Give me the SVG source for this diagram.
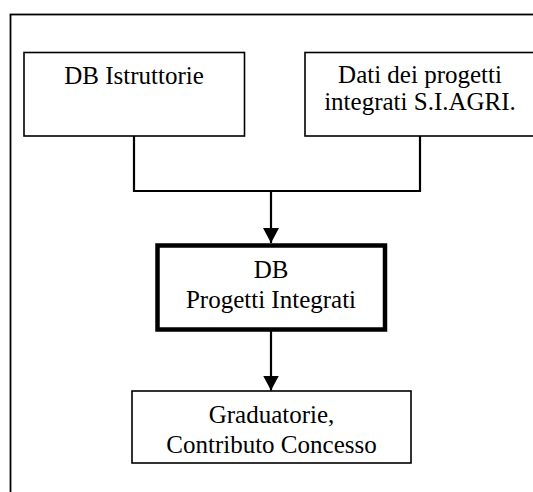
<svg xmlns="http://www.w3.org/2000/svg" width="533" height="492" viewBox="0 0 533 492">
  <style>
    .box { fill: #ffffff; stroke: #000000; stroke-width: 1.6; }
    .box-strong { fill: #ffffff; stroke: #000000; stroke-width: 4.5; }
    .frame { fill: none; stroke: #000000; stroke-width: 1.8; }
    .wire { fill: none; stroke: #000000; stroke-width: 2.2; }
    .label { font-family: "Liberation Serif", "Times New Roman", serif; font-size: 25px; fill: #000000; text-anchor: middle; }
  </style>
  <defs>
    <marker id="arrow" markerUnits="userSpaceOnUse" markerWidth="16" markerHeight="16" refX="15" refY="8" orient="auto">
      <path d="M0,0 L15,8 L0,16 Z" fill="#000000"/>
    </marker>
  </defs>

  <rect width="533" height="492" fill="#ffffff"/>

  <!-- outer frame, running off the right and bottom edges -->
  <rect class="frame" x="10.5" y="14.5" width="540" height="500"/>

  <g id="connectors">
    <polyline class="wire" points="134,136 134,191 420,191 420,136"/>
    <line class="wire" x1="271" y1="191" x2="271" y2="243" marker-end="url(#arrow)"/>
    <line class="wire" x1="271" y1="331" x2="271" y2="390.5" marker-end="url(#arrow)"/>
  </g>

  <g id="db-istruttorie">
    <rect class="box" x="24" y="52.5" width="220.5" height="83.5"/>
    <text class="label" x="134" y="84">DB Istruttorie</text>
  </g>

  <g id="dati-siagri">
    <rect class="box" x="305" y="52.5" width="232" height="83.5"/>
    <text class="label" x="420" y="83">Dati dei progetti</text>
    <text class="label" x="420" y="110">integrati S.I.AGRI.</text>
  </g>

  <g id="db-progetti-integrati">
    <rect class="box-strong" x="157.5" y="245.5" width="227.5" height="84"/>
    <text class="label" x="271" y="278">DB</text>
    <text class="label" x="271" y="308">Progetti Integrati</text>
  </g>

  <g id="graduatorie">
    <rect class="box" x="132" y="391" width="279" height="72"/>
    <text class="label" x="271.5" y="423">Graduatorie,</text>
    <text class="label" x="271.5" y="453">Contributo Concesso</text>
  </g>
</svg>
